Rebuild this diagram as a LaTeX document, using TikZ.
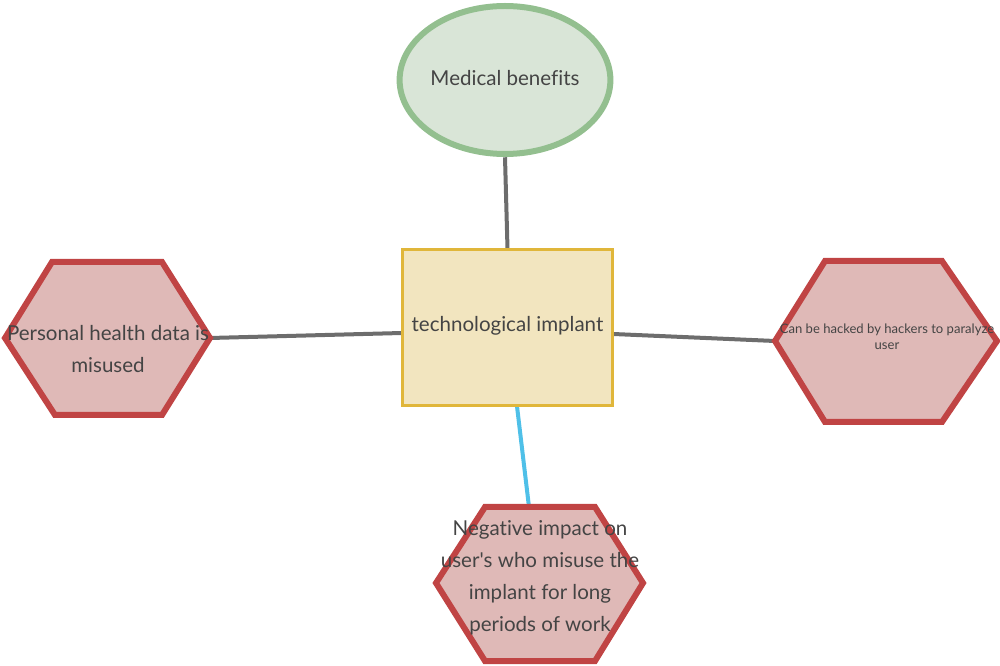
\documentclass[tikz,border=0pt]{standalone}
\usepackage{fontspec}
\setmainfont{Lato}[Ligatures=NoCommon]
\usetikzlibrary{shapes.geometric}
\definecolor{txt}{HTML}{444444}
\definecolor{hexfill}{HTML}{DFB9B7}
\definecolor{hexline}{HTML}{C04444}
\definecolor{ellfill}{HTML}{D9E5D7}
\definecolor{ellline}{HTML}{93BF8F}
\definecolor{recfill}{HTML}{F2E5BF}
\definecolor{recline}{HTML}{E0B63A}
\definecolor{conn}{HTML}{6D6D6D}
\definecolor{blueconn}{HTML}{4FC0E8}
\tikzset{
  hexshape/.style={draw=hexline, fill=hexfill, line width=4.5pt, line join=miter},
  label/.style={text=txt, font=\fontsize{15.4}{24}\selectfont, align=center, inner sep=0pt},
  connector/.style={draw=conn, line width=3pt},
  blueconnector/.style={draw=blueconn, line width=3pt},
}
\begin{document}
\begin{tikzpicture}[x=0.75pt, y=-0.75pt]
\useasboundingbox (0,0) rectangle (1000,666);
% hexagon corner coordinates
\coordinate (lhL) at (5,338);
\coordinate (lhR) at (210,338);
\coordinate (rhL) at (775,341);
\coordinate (rhR) at (997,341);
\coordinate (bhT) at (529,507);
% invisible outlines for connector ends
\node[ellipse, inner sep=0pt, draw=none, minimum width=157.5pt, minimum height=115.5pt] (ell) at (505,80) {};
\node[rectangle, minimum width=158.25pt, minimum height=117.75pt, inner sep=0pt] (rec) at (507.5,327.5) {};
% connectors
\draw[connector] (ell.south) -- (rec.north);
\draw[connector] (lhR) -- (rec.west |- 0,333);
\draw[connector] (rec.east |- 0,334) -- (rhL);
\draw[blueconnector] (rec.south -| 517,0) -- (bhT);
% shapes
\node[ellipse, draw=ellline, fill=ellfill, line width=4.5pt, minimum width=153pt, minimum height=111pt, label] (med) at (505,80) {\raisebox{3.5pt}{Medical benefits}};
\node[rectangle, draw=recline, fill=recfill, line width=2.2pt, minimum width=158pt, minimum height=117.5pt, label] (tech) at (507.5,327.5) {\raisebox{5pt}{technological implant}};
\draw[hexshape] (lhL) -- (52,262) -- (162,262) -- (lhR) -- (162,415) -- (55,415) -- cycle;
\draw[hexshape] (rhL) -- (825,261) -- (942,261) -- (rhR) -- (942,422) -- (825,422) -- cycle;
\draw[hexshape] (436,583) -- (485,507) -- (595,507) -- (643,583) -- (595,661) -- (485,661) -- cycle;
\node[label] (personal) at (108,349) {Personal health data is\\misused};
\node[label, font=\fontsize{9.8}{12}\selectfont] (hack) at (887,337) {Can be hacked by hackers to paralyze\\user};
\node[label] (neg) at (540,578) {Negative impact on\\user\textquotesingle s who misuse the\\implant for long\\periods of work};
\end{tikzpicture}
\end{document}
